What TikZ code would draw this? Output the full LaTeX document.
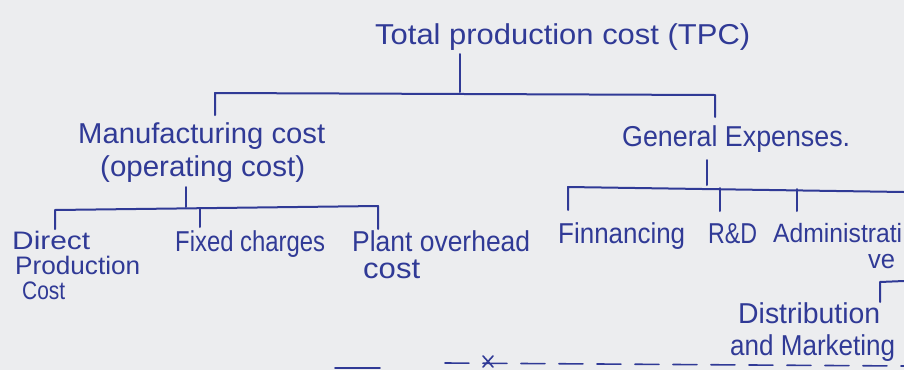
\documentclass[tikz,border=0pt]{standalone}
\usepackage{fontspec}
\setmainfont{Liberation Sans}
\definecolor{ink}{RGB}{48,58,150}
\definecolor{paper}{RGB}{236,237,239}
\newsavebox\hwbox
\newcommand\hwtext[3][1.25]{\sbox\hwbox{\fontsize{23}{26}\selectfont #3}%
  \scalebox{\fpeval{#2/(\the\wd\hwbox)}}[#1]{\usebox\hwbox}}
\begin{document}
\begin{tikzpicture}[x=1pt,y=-1pt,
  lbl/.style={text=ink, inner sep=0pt, anchor=base west},
  wire/.style={draw=ink, line width=2pt, line cap=round, line join=round}]
\fill[paper] (0,0) rectangle (904,370);
\useasboundingbox (0,0) rectangle (904,370);

% texts
\node[lbl] (tpc) at (375,44) {\hwtext{375}{Total production cost (TPC)}};
\node[lbl] (mfg) at (78,143) {\hwtext{247}{Manufacturing cost}};
\node[lbl] (op) at (100,176) {\hwtext{205}{(operating cost)}};
\node[lbl] (gen) at (622,146) {\hwtext{228}{General Expenses.}};
\node[lbl] (dir1) at (12,249) {\hwtext[1.1]{78}{Direct}};
\node[lbl] (dir2) at (15,274) {\hwtext[1.1]{125}{Production}};
\node[lbl] (dir3) at (22,299) {\hwtext[1.1]{43}{Cost}};
\node[lbl] (fix) at (175,251) {\hwtext{150}{Fixed charges}};
\node[lbl] (pl1) at (352,251) {\hwtext{178}{Plant overhead}};
\node[lbl] (pl2) at (363,278) {\hwtext{57}{cost}};
\node[lbl] (fin) at (558,243) {\hwtext{127}{Finnancing}};
\node[lbl] (rd) at (708,243) {\hwtext{49}{R\&D}};
\node[lbl] (adm1) at (773,242) {\hwtext[1.15]{129}{Administrati}};
\node[lbl] (adm2) at (868,268) {\hwtext[1.15]{27}{ve}};
\node[lbl] (dis1) at (738,323) {\hwtext{142}{Distribution}};
\node[lbl] (dis2) at (730,355) {\hwtext{165}{and Marketing}};

% tree 1: TPC
\coordinate (t0) at (460,54);
\coordinate (t1) at (460,92);
\coordinate (b1l) at (215,93);
\coordinate (b1r) at (715,95);
\coordinate (b1ld) at (215,115);
\coordinate (b1rd) at (715,117);
\draw[wire] (t0) -- (t1);
\draw[wire] (b1ld) -- (b1l) -- (b1r) -- (b1rd);

% tree 2: manufacturing
\coordinate (m0) at (186,187);
\coordinate (m1) at (186,207);
\coordinate (b2l) at (55,210);
\coordinate (b2r) at (378,206);
\coordinate (b2ld) at (55,229);
\coordinate (b2rd) at (378,229);
\coordinate (b2m) at (200,208);
\coordinate (b2md) at (200,227);
\draw[wire] (m0) -- (m1);
\draw[wire] (b2ld) -- (b2l) -- (b2r) -- (b2rd);
\draw[wire] (b2m) -- (b2md);

% tree 3: general expenses
\coordinate (g0) at (707,160);
\coordinate (g1) at (707,185);
\coordinate (b3l) at (568,187);
\coordinate (b3r) at (904,192);
\coordinate (b3ld) at (568,210);
\coordinate (b3a) at (720,188);
\coordinate (b3ad) at (720,211);
\coordinate (b3b) at (797,189);
\coordinate (b3bd) at (797,211);
\draw[wire] (g0) -- (g1);
\draw[wire] (b3ld) -- (b3l) -- (b3r);
\draw[wire] (b3a) -- (b3ad);
\draw[wire] (b3b) -- (b3bd);

% distribution bracket
\coordinate (d0) at (880,302);
\coordinate (d1) at (880,282);
\coordinate (d2) at (904,281);
\draw[wire] (d0) -- (d1) -- (d2);

% end mark
\coordinate (e0) at (335,368);
\coordinate (e1) at (380,368);
\coordinate (e2) at (445,363);
\coordinate (e3) at (904,366);
\coordinate (xa) at (483,356);
\coordinate (xb) at (493,367);
\coordinate (xc) at (493,356);
\coordinate (xd) at (483,367);
\draw[wire, line width=1.6pt] (e0) -- (e1);
\draw[wire, line width=1.6pt, dash pattern=on 24pt off 14pt] (e2) -- (e3);
\draw[wire, line width=1.6pt] (xa) -- (xb) (xc) -- (xd);
\end{tikzpicture}
\end{document}
